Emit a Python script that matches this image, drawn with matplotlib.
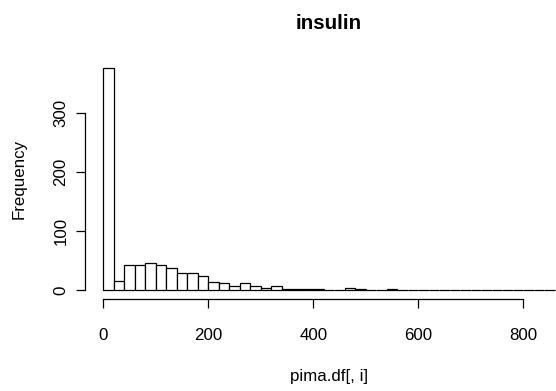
import matplotlib
matplotlib.use("Agg")
import matplotlib.pyplot as plt
import numpy as np

plt.rcParams['font.family'] = ['Liberation Sans', 'DejaVu Sans']

# Histogram of pima insulin, bins of width 20 from 0 to 860
bin_edges = list(range(0, 880, 20))
counts = [376, 16, 43, 43, 47, 43, 38, 29, 29, 24,
          15, 12, 7, 12, 7, 4, 8, 2, 2, 2,
          2, 0, 0, 5, 2, 0, 0, 2, 1, 1,
          0, 0, 0, 0, 1, 0, 0, 1, 0, 0,
          0, 0, 1]
x_ticks = [0, 200, 400, 600, 800]
y_ticks = [0, 100, 200, 300]
title = "insulin"
xlabel = "pima.df[, i]"
ylabel = "Frequency"

W, H = 556, 391
fig = plt.figure(figsize=(W / 100, H / 100), dpi=100)
left_px, right_px, top_px, bottom_px = 85.4, 572.8, 59.0, 299.4
ax = fig.add_axes([left_px / W, 1 - bottom_px / H,
                   (right_px - left_px) / W, (bottom_px - top_px) / H])

lefts = np.array(bin_edges[:-1])
ax.bar(lefts, counts, width=20, align='edge', facecolor='white',
       edgecolor='black', linewidth=0.9, clip_on=False)

xmax = bin_edges[-1]
ymax = max(counts)
ax.set_xlim(-0.04 * xmax, xmax * 1.04)
ax.set_ylim(-0.04 * ymax, ymax * 1.04)

for s in ['top', 'right']:
    ax.spines[s].set_visible(False)
ax.spines['bottom'].set_bounds(x_ticks[0], x_ticks[-1])
ax.spines['left'].set_bounds(y_ticks[0], y_ticks[-1])
for s in ['bottom', 'left']:
    ax.spines[s].set_linewidth(0.9)

fs = 12.2
ax.set_xticks(x_ticks)
ax.set_yticks(y_ticks)
ax.tick_params(axis='both', direction='out', length=6.5, width=0.9,
               labelsize=fs, colors='black')
ax.tick_params(axis='x', pad=14.1)
ax.tick_params(axis='y', pad=5.6)
for lab in ax.get_yticklabels():
    lab.set_rotation(90)
    lab.set_va('center')

ax.set_xlabel(xlabel, fontsize=fs, labelpad=19)
ax.set_ylabel(ylabel, fontsize=fs, labelpad=19.5)
ax.set_title(title, fontsize=14.8, fontweight='bold', pad=21.3)

fig.savefig("out.png", dpi=100)
